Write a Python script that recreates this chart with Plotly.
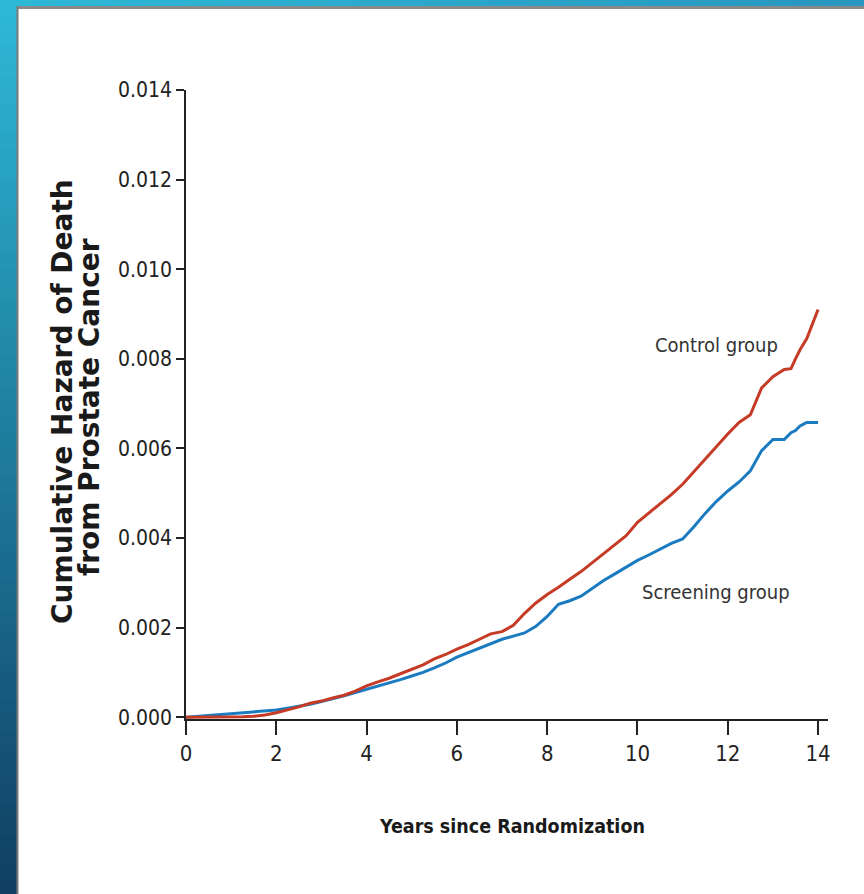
import plotly.graph_objects as go

W, H = 864, 894

# ---- data ----
years = [0, 0.25, 0.5, 0.75, 1.0, 1.25, 1.5, 1.75, 2.0, 2.25, 2.5, 2.75, 3.0, 3.25, 3.5, 3.75,
         4.0, 4.25, 4.5, 4.75, 5.0, 5.25, 5.5, 5.75, 6.0, 6.25, 6.5, 6.75, 7.0, 7.25, 7.5, 7.75,
         8.0, 8.25, 8.5, 8.75, 9.0, 9.25, 9.5, 9.75, 10.0, 10.25, 10.5, 10.75, 11.0, 11.25, 11.5,
         11.75, 12.0, 12.25, 12.5, 12.75, 13.0, 13.25, 13.4, 13.5, 13.6, 13.75, 14.0]

control = [0, 0, 0, 0, 0, 0.00001, 0.00002, 0.00005, 0.0001, 0.00016, 0.00023, 0.00031, 0.00036,
           0.00043, 0.00049, 0.00058, 0.0007, 0.00079, 0.00087, 0.00097, 0.00107, 0.00117, 0.0013,
           0.0014, 0.00152, 0.00162, 0.00174, 0.00186, 0.00191, 0.00205, 0.00232, 0.00255, 0.00274,
           0.0029, 0.00308, 0.00325, 0.00345, 0.00365, 0.00385, 0.00405, 0.00435, 0.00455, 0.00477,
           0.00497, 0.0052, 0.00548, 0.00578, 0.00605, 0.00632, 0.00658, 0.00675, 0.00735, 0.0076,
           0.00776, 0.00778, 0.008, 0.0082, 0.00845, 0.0091]

screening = [0, 0.00002, 0.00004, 0.00006, 0.00008, 0.0001, 0.00012, 0.00014, 0.00016, 0.0002,
             0.00024, 0.00029, 0.00035, 0.00041, 0.00048, 0.00055, 0.00062, 0.00069, 0.00076,
             0.00084, 0.00092, 0.001, 0.0011, 0.00121, 0.00134, 0.00144, 0.00153, 0.00164, 0.00174,
             0.00181, 0.00188, 0.00203, 0.00225, 0.00252, 0.0026, 0.0027, 0.00288, 0.00305, 0.0032,
             0.00335, 0.0035, 0.00362, 0.00375, 0.00388, 0.00398, 0.00425, 0.00455, 0.00482, 0.00505,
             0.00525, 0.0055, 0.00595, 0.0062, 0.0062, 0.00635, 0.0064, 0.0065, 0.00658, 0.00658]

x_ticks = [0, 2, 4, 6, 8, 10, 12, 14]
y_ticks = [0.000, 0.002, 0.004, 0.006, 0.008, 0.010, 0.012, 0.014]

RED = "#c63b26"
BLUE = "#1b7bc0"
FONT_NARROW = "Liberation Sans Narrow, DejaVu Sans Condensed, Arial Narrow, sans-serif"
FONT_BOLD = "DejaVu Sans, sans-serif"


def px(x):
    return x / W


def py(y):
    return 1 - y / H


fig = go.Figure()
fig.add_trace(go.Scatter(x=years, y=screening, mode="lines", line=dict(color=BLUE, width=3),
                         name="Screening group", showlegend=False))
fig.add_trace(go.Scatter(x=years, y=control, mode="lines", line=dict(color=RED, width=3),
                         name="Control group", showlegend=False))

# ---- background decoration: blue gradient frame and white panel ----
shapes = []


def lerp(c1, c2, t):
    return "rgb(%d,%d,%d)" % tuple(round(a + (b - a) * t) for a, b in zip(c1, c2))


top_c = (45, 184, 214)
bot_c = (16, 64, 100)
n = 60
for i in range(n):
    t = i / (n - 1)
    shapes.append(dict(type="rect", xref="paper", yref="paper", layer="below",
                       x0=0, x1=px(17), y0=max(0, 1 - (i + 1) / n - 0.004), y1=1 - i / n,
                       fillcolor=lerp(top_c, bot_c, t), line=dict(width=0)))
right_c = (40, 150, 190)
for i in range(n):
    t = i / (n - 1)
    shapes.append(dict(type="rect", xref="paper", yref="paper", layer="below",
                       x0=px(17) + (1 - px(17)) * i / n,
                       x1=min(1, px(17) + (1 - px(17)) * (i + 1) / n + 0.004),
                       y0=py(6), y1=1, fillcolor=lerp(top_c, right_c, t), line=dict(width=0)))
# panel border
shapes.append(dict(type="line", xref="paper", yref="paper", layer="below",
                   x0=px(17), x1=1, y0=py(7.5), y1=py(7.5), line=dict(color="#8a8a8a", width=3)))
shapes.append(dict(type="line", xref="paper", yref="paper", layer="below",
                   x0=px(17.5), x1=px(17.5), y0=0, y1=py(6), line=dict(color="#7a7a7a", width=2)))

annotations = [
    dict(text="Cumulative Hazard of Death", xref="paper", yref="paper",
         x=px(62), y=py(402), textangle=-90, showarrow=False, xanchor="center", yanchor="middle",
         font=dict(family=FONT_BOLD, size=28, color="#1a1a1a", weight="bold")),
    dict(text="from Prostate Cancer", xref="paper", yref="paper",
         x=px(89), y=py(407), textangle=-90, showarrow=False, xanchor="center", yanchor="middle",
         font=dict(family=FONT_BOLD, size=28, color="#1a1a1a", weight="bold")),
    dict(text="Years since Randomization", xref="paper", yref="paper", x=px(512), y=py(826),
         showarrow=False, xanchor="center", yanchor="middle",
         font=dict(family=FONT_NARROW, size=19.5, color="#1a1a1a", weight="bold")),
    dict(text="Control group", xref="paper", yref="paper", x=px(716), y=py(345),
         showarrow=False, xanchor="center", yanchor="middle",
         font=dict(family=FONT_NARROW, size=20, color="#333333")),
    dict(text="Screening group", xref="paper", yref="paper", x=px(716), y=py(592),
         showarrow=False, xanchor="center", yanchor="middle",
         font=dict(family=FONT_NARROW, size=20, color="#333333")),
]

x_lo, x_hi = 0, 14.22
y_lo, y_hi = -0.00004, 0.014
fig.update_layout(
    width=W, height=H,
    margin=dict(l=0, r=0, t=0, b=0),
    paper_bgcolor="white", plot_bgcolor="rgba(0,0,0,0)",
    shapes=shapes, annotations=annotations,
    xaxis=dict(domain=[px(186), px(828)], range=[x_lo, x_hi], tickvals=x_ticks,
               ticktext=[str(v) for v in x_ticks], ticks="outside", ticklen=14, tickwidth=1.5,
               tickcolor="#222", showline=True, linecolor="#222", linewidth=2, showgrid=False,
               zeroline=False, tickfont=dict(family=FONT_NARROW, size=22, color="#222"),
               automargin=False, fixedrange=True),
    yaxis=dict(domain=[py(719), py(90)], range=[y_lo, y_hi], tickvals=y_ticks,
               ticktext=["%.3f" % v for v in y_ticks], ticks="outside", ticklen=8, tickwidth=1.5,
               tickcolor="#222", showline=True, linecolor="#222", linewidth=1.5, showgrid=False,
               zeroline=False, tickfont=dict(family=FONT_NARROW, size=21, color="#222"),
               automargin=False, fixedrange=True),
)

fig.write_html("out.html", config={"displayModeBar": False},
               post_script="document.body.style.margin='0';document.body.style.overflow='hidden';")
